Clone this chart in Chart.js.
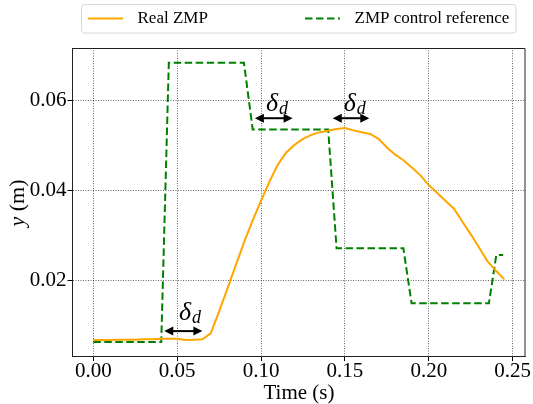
<!DOCTYPE html>
<html lang="en">
  <head>
    <meta charset="UTF-8" />
    <title>ZMP tracking</title>
    <script src="https://cdn.jsdelivr.net/npm/chart.js"></script>
    <style>
      * {
        margin: 0;
        padding: 0;
        box-sizing: border-box;
      }

      body {
        background-color: #ffffff;
        overflow: hidden;
      }

      #zmpChart {
        display: block;
      }
    </style>
  </head>
  <body>
    <canvas id="zmpChart" width="533" height="404"></canvas>

    <script>
      // Real ZMP (measured), sampled every 5 ms
      const realTime = [
        0.0, 0.005, 0.01, 0.015, 0.02, 0.025, 0.03, 0.035, 0.04, 0.045,
        0.05, 0.055, 0.06, 0.065, 0.07, 0.075, 0.08, 0.085, 0.09, 0.095,
        0.1, 0.105, 0.11, 0.115, 0.12, 0.125, 0.13, 0.135, 0.14, 0.145,
        0.15, 0.155, 0.16, 0.165, 0.17, 0.175, 0.18, 0.185, 0.19, 0.195,
        0.2, 0.205, 0.21, 0.215, 0.22, 0.225, 0.23, 0.235, 0.24, 0.245,
      ];
      const realZmp = [
        0.0068, 0.0068, 0.0068, 0.0069, 0.0069, 0.0069, 0.007, 0.007, 0.0071, 0.0071,
        0.0071, 0.0068, 0.0069, 0.007, 0.0083, 0.0132, 0.0183, 0.0235, 0.0287, 0.0334,
        0.0378, 0.042, 0.0458, 0.0485, 0.0502, 0.0515, 0.0524, 0.053, 0.0533, 0.0537,
        0.0539, 0.0534, 0.053, 0.0526, 0.0515, 0.0496, 0.048, 0.0467, 0.0451, 0.0434,
        0.0412, 0.0395, 0.0377, 0.036, 0.0331, 0.0303, 0.0273, 0.0243, 0.0222, 0.0203,
      ];

      // ZMP control reference (step profile)
      const refTime = [
        0.0, 0.0405, 0.045, 0.0898, 0.095, 0.14, 0.145, 0.1848, 0.1897, 0.2358, 0.2402, 0.2443,
      ];
      const refZmp = [
        0.0064, 0.0064, 0.0684, 0.0684, 0.0536, 0.0536, 0.0272, 0.0272, 0.015, 0.015, 0.0257, 0.0257,
      ];

      const xTicks = [0.0, 0.05, 0.1, 0.15, 0.2, 0.25];
      const yTicks = [0.02, 0.04, 0.06];

      // delay markers: arrow from x1 to x2 at height y, label anchored at (lx, ly)
      const delayMarks = [
        { x1: 0.0423, x2: 0.065, y: 0.0088, lx: 0.0511, ly: 0.0113 },
        { x1: 0.0963, x2: 0.1188, y: 0.0561, lx: 0.1029, ly: 0.0578 },
        { x1: 0.1427, x2: 0.1645, y: 0.0561, lx: 0.1492, ly: 0.0578 },
      ];

      const serif = "'Liberation Serif', 'DejaVu Serif', serif";

      const toPoints = (xs, ys) => xs.map((x, i) => ({ x: x, y: ys[i] }));

      // frame on top/right, y label, legend box and delay arrows
      const decorations = {
        id: "decorations",
        afterDraw(chart) {
          const ctx = chart.ctx;
          const area = chart.chartArea;
          const xs = chart.scales.x;
          const ys = chart.scales.y;

          ctx.save();
          ctx.strokeStyle = "#222";
          ctx.lineWidth = 1;
          ctx.beginPath();
          ctx.moveTo(area.left, area.top + 0.5);
          ctx.lineTo(area.right - 0.5, area.top + 0.5);
          ctx.lineTo(area.right - 0.5, area.bottom);
          ctx.stroke();

          // y axis title, italic y
          ctx.translate(23.5, 203);
          ctx.rotate(-Math.PI / 2);
          ctx.fillStyle = "#000";
          ctx.textBaseline = "alphabetic";
          ctx.font = "italic 22px " + serif;
          const yW = ctx.measureText("y").width;
          ctx.font = "22px " + serif;
          const restW = ctx.measureText(" (m)").width;
          const startX = -(yW + restW) / 2;
          ctx.font = "italic 22px " + serif;
          ctx.fillText("y", startX, 0);
          ctx.font = "22px " + serif;
          ctx.fillText(" (m)", startX + yW, 0);
          ctx.restore();

          // legend
          ctx.save();
          ctx.beginPath();
          ctx.roundRect(81.5, 4.5, 434.5, 28.5, 3);
          ctx.fillStyle = "rgba(255,255,255,0.8)";
          ctx.fill();
          ctx.strokeStyle = "#d6d6d6";
          ctx.lineWidth = 1;
          ctx.stroke();
          const entries = [
            { x: 88, tx: 137.5 },
            { x: 305, tx: 354.5 },
          ];
          chart.data.datasets.forEach((ds, i) => {
            const e = entries[i];
            ctx.strokeStyle = ds.borderColor;
            ctx.lineWidth = ds.borderWidth;
            ctx.setLineDash(ds.borderDash || []);
            ctx.beginPath();
            ctx.moveTo(e.x, 18.5);
            ctx.lineTo(e.x + 35, 18.5);
            ctx.stroke();
            ctx.setLineDash([]);
            ctx.fillStyle = "#000";
            ctx.font = "17px " + serif;
            ctx.textBaseline = "middle";
            ctx.fillText(ds.label, e.tx, 19);
          });
          ctx.restore();

          // delay arrows
          ctx.save();
          ctx.fillStyle = "#000";
          ctx.strokeStyle = "#000";
          delayMarks.forEach((m) => {
            const a = xs.getPixelForValue(m.x1);
            const b = xs.getPixelForValue(m.x2);
            const py = ys.getPixelForValue(m.y);
            const head = 9;
            const half = 4.5;
            ctx.lineWidth = 2;
            ctx.beginPath();
            ctx.moveTo(a + head - 1, py);
            ctx.lineTo(b - head + 1, py);
            ctx.stroke();
            ctx.beginPath();
            ctx.moveTo(a, py);
            ctx.lineTo(a + head, py - half);
            ctx.lineTo(a + head, py + half);
            ctx.closePath();
            ctx.fill();
            ctx.beginPath();
            ctx.moveTo(b, py);
            ctx.lineTo(b - head, py - half);
            ctx.lineTo(b - head, py + half);
            ctx.closePath();
            ctx.fill();

            const lx = xs.getPixelForValue(m.lx);
            const ly = ys.getPixelForValue(m.ly);
            ctx.textBaseline = "alphabetic";
            ctx.font = "italic 26px " + serif;
            ctx.fillText("δ", lx, ly);
            const dW = ctx.measureText("δ").width;
            ctx.font = "italic 18px " + serif;
            ctx.fillText("d", lx + dW + 1, ly + 3);
          });
          ctx.restore();
        },
      };

      const tickFont = { family: serif, size: 21 };

      new Chart(document.getElementById("zmpChart"), {
        type: "scatter",
        data: {
          datasets: [
            {
              label: "Real ZMP",
              data: toPoints(realTime, realZmp),
              showLine: true,
              borderColor: "#FFA500",
              backgroundColor: "#FFA500",
              borderWidth: 2,
              pointRadius: 0,
              tension: 0,
            },
            {
              label: "ZMP control reference",
              data: toPoints(refTime, refZmp),
              showLine: true,
              borderColor: "#008000",
              backgroundColor: "#008000",
              borderWidth: 2,
              borderDash: [7.5, 3.5],
              pointRadius: 0,
              tension: 0,
            },
          ],
        },
        options: {
          responsive: false,
          animation: false,
          devicePixelRatio: 1,
          layout: { padding: { top: 48, right: 7.5, left: 0, bottom: 0 } },
          plugins: {
            legend: { display: false },
            tooltip: { enabled: false },
          },
          scales: {
            x: {
              type: "linear",
              min: -0.0124,
              max: 0.2576,
              afterFit: (scale) => {
                scale.height = 48;
              },
              afterBuildTicks: (scale) => {
                scale.ticks = xTicks.map((v) => ({ value: v }));
              },
              ticks: {
                color: "#000",
                font: tickFont,
                padding: -2,
                maxRotation: 0,
                callback: (v) => Number(v).toFixed(2),
              },
              grid: {
                color: "rgba(0,0,0,0.75)",
                lineWidth: 0.8,
                tickLength: 5,
                tickColor: "#000",
                tickWidth: 1,
                tickBorderDash: [],
              },
              border: { display: true, color: "#222", width: 1, dash: [1, 1.5] },
              title: {
                display: true,
                text: "Time (s)",
                color: "#000",
                font: { family: serif, size: 21 },
                padding: { top: 0, bottom: -2 },
              },
            },
            y: {
              type: "linear",
              min: 0.00327,
              max: 0.0717,
              afterFit: (scale) => {
                scale.width = 72.5;
              },
              afterBuildTicks: (scale) => {
                scale.ticks = yTicks.map((v) => ({ value: v }));
              },
              ticks: {
                color: "#000",
                font: tickFont,
                padding: 1,
                callback: (v) => Number(v).toFixed(2),
              },
              grid: {
                color: "rgba(0,0,0,0.75)",
                lineWidth: 0.8,
                tickLength: 5,
                tickColor: "#000",
                tickWidth: 1,
                tickBorderDash: [],
              },
              border: { display: true, color: "#222", width: 1, dash: [1, 1.5] },
            },
          },
        },
        plugins: [decorations],
      });
    </script>
  </body>
</html>
